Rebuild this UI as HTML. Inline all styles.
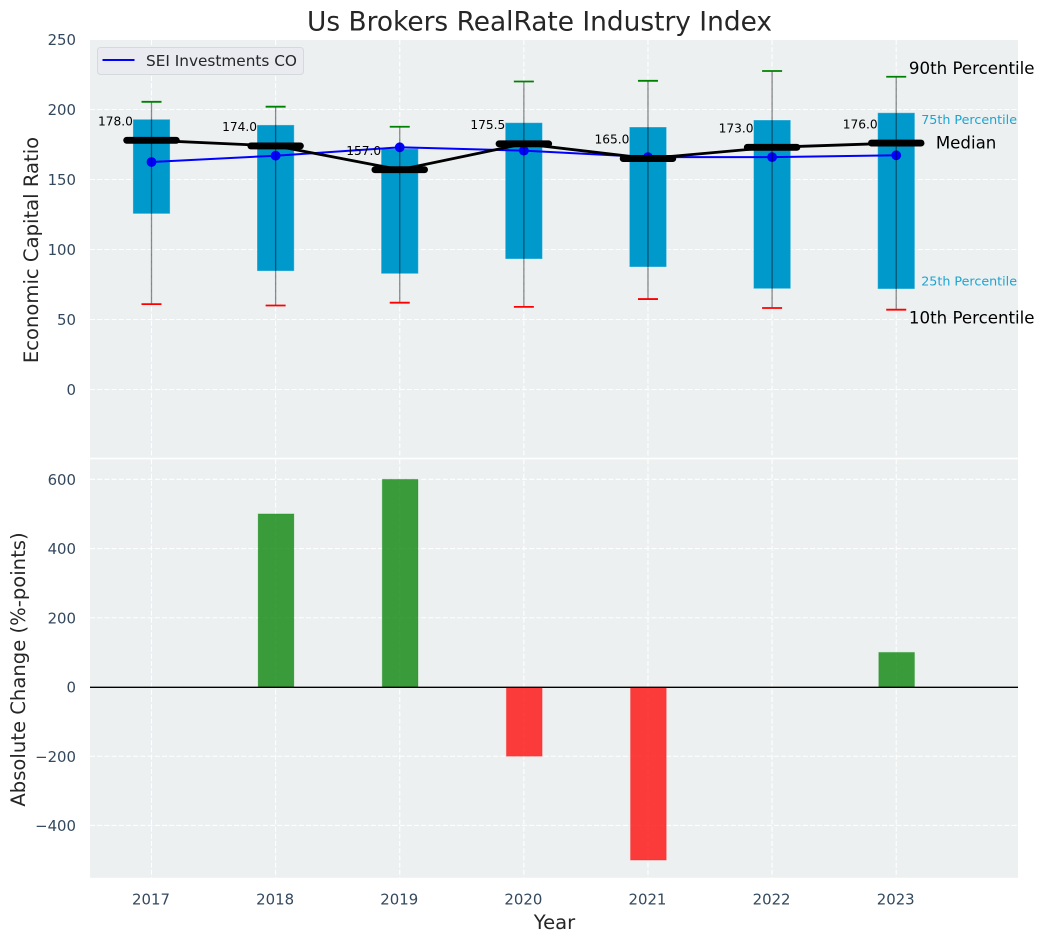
<!DOCTYPE html>
<html lang="en">
<head>
<meta charset="utf-8">
<title>Us Brokers RealRate Industry Index</title>
<style>
  html, body { margin: 0; padding: 0; background: #fff; }
  svg { display: block; font-family: "DejaVu Sans", "Liberation Sans", sans-serif; }
</style>
</head>
<body>
<svg id="chart" xmlns="http://www.w3.org/2000/svg" width="1044" height="942" viewBox="0 0 1044 942">
  <rect x="0" y="0" width="1044" height="942" fill="#ffffff"/>
  <rect x="90" y="40" width="928" height="417.7" fill="#ecf0f1"/>
  <rect x="90" y="459.4" width="928" height="418.4" fill="#ecf0f1"/>
  <g id="grid"></g>
  <g id="bars"></g>
  <line x1="90" x2="1018" y1="687.3" y2="687.3" stroke="#000" stroke-width="1.4"/>
  <g id="boxes"></g>
  <g id="company"></g>
  <g id="medians"></g>
  <g id="whiskers"></g>
  <g id="ticks" fill="#34495e" font-size="14.9"></g>
  <g id="annots"></g>

  <text x="539.5" y="30.3" text-anchor="middle" font-size="26.4" fill="#262626">Us Brokers RealRate Industry Index</text>
  <text transform="translate(38,250) rotate(-90)" text-anchor="middle" font-size="19.6" fill="#262626">Economic Capital Ratio</text>
  <text transform="translate(25,669.5) rotate(-90)" text-anchor="middle" font-size="19.6" fill="#262626">Absolute Change (%-points)</text>
  <text x="554.5" y="929" text-anchor="middle" font-size="19.6" fill="#262626">Year</text>

  <g>
    <rect x="97.5" y="47.5" width="206" height="27" rx="3" fill="#e9ebf1" stroke="#d6d9dc" stroke-width="1"/>
    <line x1="102.5" x2="134.5" y1="60" y2="60" stroke="#0000ff" stroke-width="2"/>
    <text x="146" y="66" font-size="15.3" fill="#262626">SEI Investments CO</text>
  </g>
</svg>
<script>
const years = [2017, 2018, 2019, 2020, 2021, 2022, 2023];
const p90 = [205.5, 202, 187.7, 220, 220.5, 227.5, 223.4];
const p75 = [193, 189, 172, 190.6, 187.5, 192.5, 197.7];
const medianValues = [178, 174, 157, 175.5, 165, 173, 176];
const p25 = [125.5, 84.6, 82.7, 93.2, 87.5, 72, 71.8];
const p10 = [61, 60, 62, 59, 64.6, 58.2, 57];
const companyValues = [162.5, 167, 173, 170.6, 166, 166, 167.3];
const changeValues = [0, 500, 600, -200, -500, 0, 100];
const topTicks = [250, 200, 150, 100, 50, 0];
const bottomTicks = [600, 400, 200, 0, -200, -400];
const medianLabels = ["178.0", "174.0", "157.0", "175.5", "165.0", "173.0", "176.0"];

const NS = "http://www.w3.org/2000/svg";
function xAt(year) { return 151.5 + (year - 2017) * 124.12; }
function yTop(v) { return 389.5 - 1.4 * v; }
function yBottom(v) { return 687 - 0.3462 * v; }
function make(tag, parentId, attrs) {
  const el = document.createElementNS(NS, tag);
  Object.keys(attrs).forEach(function (k) { el.setAttribute(k, attrs[k]); });
  document.getElementById(parentId).appendChild(el);
  return el;
}
const gridStyle = { stroke: "#ffffff", "stroke-width": 1.1, "stroke-dasharray": "5 2.2", fill: "none" };
function gridLine(x1, y1, x2, y2) {
  return make("line", "grid", Object.assign({ x1: x1, y1: y1, x2: x2, y2: y2 }, gridStyle));
}

years.forEach(function (year, i) {
  const x = xAt(year);

  const gridTop = gridLine(x, 40, x, 457.7);
  
  
  const gridBottom = gridLine(x, 459.4, x, 877.8);
  
  

  const yearLabel = make("text", "ticks", { x: x - 0.5, y: 904.6, "text-anchor": "middle" });
  yearLabel.textContent = year;
  
  

  const box = make("rect", "boxes", {
    x: x - 18.6, y: yTop(p75[i]), width: 37.2, height: yTop(p25[i]) - yTop(p75[i]),
    fill: "#0099cc", stroke: "#ffffff", "stroke-opacity": 0.35, "stroke-width": 1
  });
  
  

  const stem = make("line", "whiskers", {
    x1: x, x2: x, y1: yTop(p90[i]), y2: yTop(p10[i]),
    stroke: "#000000", "stroke-opacity": 0.45, "stroke-width": 1.3
  });
  
  

  const capHigh = make("line", "whiskers", {
    x1: x - 10, x2: x + 10, y1: yTop(p90[i]), y2: yTop(p90[i]),
    stroke: "#008000", "stroke-width": 1.8
  });
  
  

  const capLow = make("line", "whiskers", {
    x1: x - 10, x2: x + 10, y1: yTop(p10[i]), y2: yTop(p10[i]),
    stroke: "#ff0000", "stroke-width": 1.8
  });
  
  

  const marker = make("circle", "company", { cx: x, cy: yTop(companyValues[i]), r: 4.9, fill: "#0000ff" });
  
  

  const band = make("line", "medians", {
    x1: x - 24.8, x2: x + 24.8, y1: yTop(medianValues[i]), y2: yTop(medianValues[i]),
    stroke: "#000000", "stroke-width": 6.9, "stroke-linecap": "round"
  });
  
  

  const medianText = make("text", "annots", {
    x: x - 18.6, y: yTop(medianValues[i]) - 14.8, "text-anchor": "end", "font-size": 12.2, fill: "#000000"
  });
  medianText.textContent = medianLabels[i];
  
  

  const v = changeValues[i];
  const barColor = v >= 0 ? "#008000" : "#ff0000";
  const bar = make("rect", "bars", {
    x: x - 17.5, width: 35.8,
    y: Math.min(yBottom(v), yBottom(0)), height: Math.abs(yBottom(v) - yBottom(0)),
    fill: barColor, "fill-opacity": 0.76, stroke: barColor, "stroke-opacity": 0.2, "stroke-width": 1
  });
  
  
});

topTicks.forEach(function (t) {
  const g = gridLine(90, yTop(t), 1018, yTop(t));
  
  
  const label = make("text", "ticks", { x: 76, y: yTop(t) + 5.6, "text-anchor": "end" });
  label.textContent = t;
  
  
});

bottomTicks.forEach(function (t) {
  const g = gridLine(90, yBottom(t), 1018, yBottom(t));
  
  
  const label = make("text", "ticks", { x: 76, y: yBottom(t) + 5.6, "text-anchor": "end" });
  label.textContent = String(t).replace("-", "\u2212");
  
  
});

const companyLine = make("polyline", "company", {
  points: years.map(function (y, i) { return xAt(y) + "," + yTop(companyValues[i]); }).join(" "),
  fill: "none", stroke: "#0000ff", "stroke-width": 2
});



const medianLine = make("polyline", "medians", {
  points: years.map(function (y, i) { return xAt(y) + "," + yTop(medianValues[i]); }).join(" "),
  fill: "none", stroke: "#000000", "stroke-width": 2.8
});



const lastIndex = years.length - 1;
const lastX = xAt(years[lastIndex]);

const label90 = make("text", "annots", { x: lastX + 12.7, y: yTop(p90[lastIndex]) - 2.7, "font-size": 16.65, fill: "#000000" });
label90.textContent = "90th Percentile";



const label10 = make("text", "annots", { x: lastX + 12.7, y: yTop(p10[lastIndex]) + 14, "font-size": 16.65, fill: "#000000" });
label10.textContent = "10th Percentile";



const label75 = make("text", "annots", { x: lastX + 25, y: yTop(p75[lastIndex]) + 11.5, "font-size": 12.7, fill: "#0099cc", "fill-opacity": 0.88 });
label75.textContent = "75th Percentile";



const label25 = make("text", "annots", { x: lastX + 25, y: yTop(p25[lastIndex]) - 3.3, "font-size": 12.7, fill: "#0099cc", "fill-opacity": 0.88 });
label25.textContent = "25th Percentile";



const labelMedian = make("text", "annots", { x: lastX + 39.6, y: yTop(medianValues[lastIndex]) + 5.6, "font-size": 16.65, fill: "#000000" });
labelMedian.textContent = "Median";


</script>
</body>
</html>
